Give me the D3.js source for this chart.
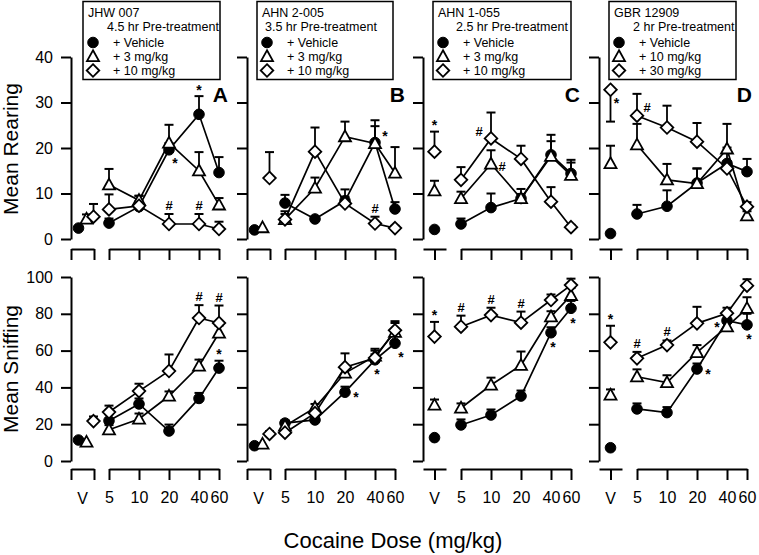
<!DOCTYPE html>
<html><head><meta charset="utf-8">
<script src="https://cdn.jsdelivr.net/npm/d3@7"></script>
<style>body{margin:0;background:#fff}svg{display:block}</style>
</head><body><svg id="c" width="759" height="555"></svg>
<script>
// ---------- DATA ----------
const panelLetters = ["A","B","C","D"];
const compounds = ["JHW 007","AHN 2-005","AHN 1-055","GBR 12909"];
const pretreatments = ["4.5 hr Pre-treatment","3.5 hr Pre-treatment","2.5 hr Pre-treatment","2 hr Pre-treatment"];
const legendEntries = [
  ["+ Vehicle","+ 3 mg/kg","+ 10 mg/kg"],
  ["+ Vehicle","+ 3 mg/kg","+ 10 mg/kg"],
  ["+ Vehicle","+ 3 mg/kg","+ 10 mg/kg"],
  ["+ Vehicle","+ 10 mg/kg","+ 30 mg/kg"]
];
const doses = [5,10,20,40,60];
const xTickLabels = ["V","5","10","20","40","60"];
const rearTicks = [0,10,20,30,40];
const sniffTicks = [0,20,40,60,80,100];
const yTitleRear = "Mean Rearing";
const yTitleSniff = "Mean Sniffing";
const xTitle = "Cocaine Dose (mg/kg)";

// rows: [V, 5, 10, 20, 40, 60]; series order: vehicle(circle), low dose(triangle), high dose(diamond)
const rearA_mean = [[2.4,3.5,7.1,19.6,27.4,14.6],[4.4,11.9,8.5,21.1,15.0,7.5],[4.9,6.5,7.3,3.3,3.3,2.2]];
const rearA_sem  = [[0,1.0,2.4,1.5,4.0,3.4],[1.0,3.5,1.0,4.0,4.1,1.5],[2.8,3.3,1.0,2.2,2.2,1.6]];
const rearB_mean = [[2.0,7.9,4.4,8.4,21.2,6.6],[2.5,4.3,11.2,22.5,21.0,14.5],[13.4,4.3,19.2,7.8,3.4,2.4]];
const rearB_sem  = [[0,1.8,0.5,2.5,4.9,1.5],[0,1.8,2.3,3.3,3.8,5.7],[5.7,1.2,5.3,1.5,1.5,0.5]];
const rearC_mean = [[2.1,3.3,6.9,8.9,18.5,14.4],[10.6,8.9,16.5,8.9,18.2,14.0],[19.2,13.0,22.1,17.6,8.2,2.6]];
const rearC_sem  = [[0,1.2,3.1,2.1,4.4,3.0],[2.2,1.5,3.0,1.0,3.3,2.8],[4.4,2.8,5.7,2.9,3.2,0.5]];
const rearD_mean = [[1.2,5.5,7.2,12.3,16.6,14.8],[16.6,20.7,13.0,12.2,19.8,5.1],[32.8,27.1,24.5,21.4,15.5,7.1]];
const rearD_sem  = [[0,2.0,3.5,3.2,3.5,2.8],[3.9,4.6,3.5,3.3,5.5,1.0],[-7.0,4.8,4.8,4.1,1.5,1.0]];

const sniffA_mean = [[11.4,21.9,31.0,16.3,34.0,50.5],[10.3,17.0,22.8,35.3,51.6,69.6],[21.7,26.6,38.0,48.9,77.7,75.0]];
const sniffA_sem  = [[0,3.5,3.0,3.5,3.0,4.0],[0,2.5,3.0,2.5,3.5,4.0],[2.5,3.5,4.0,9.0,7.0,9.5]];
const sniffB_mean = [[8.3,20.6,22.3,37.4,55.0,64.0],[9.2,19.0,29.0,47.8,57.0,70.0],[14.7,15.4,26.0,51.0,56.0,71.0]];
const sniffB_sem  = [[0,1.5,1.5,3.0,3.0,4.0],[0,1.0,2.0,3.0,3.0,5.0],[1.5,1.0,2.0,7.5,5.0,5.0]];
const sniffC_mean = [[12.7,19.6,25.0,35.3,69.7,83.0],[30.4,28.8,41.3,52.0,78.4,90.0],[67.6,73.0,79.3,75.2,87.5,95.6]];
const sniffC_sem  = [[0,3.0,3.0,3.0,3.0,4.0],[3.0,2.5,4.0,7.5,3.0,4.0],[8.0,6.0,4.0,6.0,3.0,3.5]];
const sniffD_mean = [[7.2,28.3,26.3,50.0,76.3,74.0],[35.9,45.8,42.6,59.0,73.0,83.0],[64.5,55.8,63.0,74.8,80.3,95.3]];
const sniffD_sem  = [[0,3.0,3.0,3.0,3.0,6.0],[3.0,4.0,4.0,4.0,4.0,6.0],[9.0,3.5,2.5,9.0,3.0,3.5]];

// significance marks: [series, point index (0 = V), symbol, placement]
const rearA_notes = [[0,3,"*","downright"],[0,4,"*","above"],[2,3,"#","above"],[2,4,"#","above"]];
const rearB_notes = [[0,4,"*","upright"],[2,4,"#","above"]];
const rearC_notes = [[2,0,"*","above"],[2,2,"#","upleft"],[1,2,"#","right"]];
const rearD_notes = [[2,0,"*","downright"],[2,1,"#","upright"]];
const sniffA_notes = [[0,5,"*","above"],[2,4,"#","above"],[2,5,"#","above"]];
const sniffB_notes = [[0,3,"*","right"],[0,4,"*","below"],[0,5,"*","downright"]];
const sniffC_notes = [[2,0,"*","above"],[2,1,"#","above"],[2,2,"#","above"],[2,3,"#","above"],[0,4,"*","below"],[0,5,"*","below"]];
const sniffD_notes = [[2,0,"*","above"],[2,1,"#","above"],[2,2,"#","above"],[0,3,"*","right"],[0,4,"*","left"],[0,5,"*","below"]];

// ---------- LAYOUT ----------
const FONT = "'Liberation Sans', Arial, Helvetica, sans-serif";
const svg = d3.select("#c");
const axisXs = [71,247,423,599];
const vehicleStyle = ["split","split","single","single"];
const vehOffsets = {split:[7.5,15.5,22.5], single:[11.5,11.5,11.5]};
const legendX = [83,257,433,609], legendW = [137,136,138,127], pretreatDX = [24,8,23,24];
const letterDX = [157,158,157,153];

const yRear = d3.scaleLinear().domain([0,40]).range([239,57]);
const ySniff = d3.scaleLinear().domain([0,100]).range([461,277]);
const xDose = d3.scaleLog().domain([5,40,60]).range([38,128,148]);
const xVeh = d3.scaleLinear().domain([0,1]).range([0,23]);

const rows = [
  {y: yRear, ticks: rearTicks, means:[rearA_mean,rearB_mean,rearC_mean,rearD_mean], sems:[rearA_sem,rearB_sem,rearC_sem,rearD_sem],
   notes:[rearA_notes,rearB_notes,rearC_notes,rearD_notes], bracketY: 249, labels:false, title: yTitleRear, titleY: 149},
  {y: ySniff, ticks: sniffTicks, means:[sniffA_mean,sniffB_mean,sniffC_mean,sniffD_mean], sems:[sniffA_sem,sniffB_sem,sniffC_sem,sniffD_sem],
   notes:[sniffA_notes,sniffB_notes,sniffC_notes,sniffD_notes], bracketY: 469, labels:true, title: yTitleSniff, titleY: 369}
];

function drawMarker(g, type, x, y) {
  if (type === 0) {
    g.append("circle").attr("cx",x).attr("cy",y).attr("r",5.3).attr("fill","#000").attr("stroke","#000").attr("stroke-width",1);
  } else if (type === 1) {
    g.append("path").attr("d",`M${x},${y-6.2}L${x+6},${y+4.6}L${x-6},${y+4.6}Z`)
      .attr("fill","#fff").attr("stroke","#000").attr("stroke-width",1.8).attr("stroke-linejoin","miter");
  } else {
    g.append("path").attr("d",`M${x},${y-6.3}L${x+6.3},${y}L${x},${y+6.3}L${x-6.3},${y}Z`)
      .attr("fill","#fff").attr("stroke","#000").attr("stroke-width",1.8);
  }
}

const placeOffsets = {
  right:[11,2], upright:[10,-9], upleft:[-12,-7], left:[-10,4], below:[2,12], downright:[6,11]
};

rows.forEach((r) => {
  axisXs.forEach((ax, p) => {
    const g = svg.append("g").attr("transform",`translate(${ax},0)`);
    // y axis
    const ya = g.append("g").call(d3.axisLeft(r.y).tickValues(r.ticks).tickSize(10).tickSizeOuter(0).tickPadding(8)
      .tickFormat(p === 0 ? d3.format("d") : () => ""));
    ya.select(".domain").attr("stroke-width",2);
    ya.selectAll(".tick line").attr("stroke-width",2);
    ya.selectAll("text").attr("font-family",FONT).attr("font-size",16).attr("fill","#000");

    // dose bracket
    const xa = g.append("g").attr("transform",`translate(0,${r.bracketY})`)
      .call(d3.axisBottom(xDose).tickValues(doses).tickSize(11).tickSizeOuter(0).tickPadding(12)
        .tickFormat((d,i) => r.labels ? xTickLabels[i+1] : ""));
    xa.select(".domain").attr("stroke-width",2);
    xa.selectAll(".tick line").attr("stroke-width",2);
    xa.selectAll("text").attr("font-family",FONT).attr("font-size",16).attr("fill","#000");

    // vehicle bracket
    const split = vehicleStyle[p] === "split";
    const va = g.append("g").attr("transform",`translate(0,${r.bracketY})`)
      .call(d3.axisBottom(xVeh).tickValues(split ? [0,1] : [0.5]).tickSize(11).tickSizeOuter(0).tickFormat(() => ""));
    va.select(".domain").attr("stroke-width",2);
    va.selectAll(".tick line").attr("stroke-width",2);
    if (r.labels) {
      g.append("text").attr("x", xVeh(0.5)).attr("y", r.bracketY + 35).attr("text-anchor","middle")
        .attr("font-family",FONT).attr("font-size",16).text(xTickLabels[0]);
    }

    const means = r.means[p], sems = r.sems[p];
    const vOff = vehOffsets[vehicleStyle[p]];
    const px = (s,i) => i === 0 ? vOff[s] : xDose(doses[i-1]);

    // lines
    const line = d3.line().x(d => d[0]).y(d => d[1]);
    means.forEach((row, s) => {
      const pts = doses.map((d,i) => [xDose(d), r.y(row[i+1])]);
      g.append("path").attr("d", line(pts)).attr("fill","none").attr("stroke","#000").attr("stroke-width",1.7);
    });
    // error bars
    means.forEach((row, s) => {
      row.forEach((v, i) => {
        const e = sems[s][i];
        if (!e) return;
        const x = px(s,i), y0 = r.y(v), y1 = r.y(v + e);
        g.append("line").attr("x1",x).attr("x2",x).attr("y1",y0).attr("y2",y1).attr("stroke","#000").attr("stroke-width",1.8);
        g.append("line").attr("x1",x-4.5).attr("x2",x+4.5).attr("y1",y1).attr("y2",y1).attr("stroke","#000").attr("stroke-width",2);
      });
    });
    // markers
    means.forEach((row, s) => {
      row.forEach((v, i) => drawMarker(g, s, px(s,i), r.y(v)));
    });
    // significance marks
    r.notes[p].forEach(([s,i,sym,place]) => {
      const x = px(s,i), v = means[s][i], e = sems[s][i];
      let cx, cy;
      if (place === "above") { cx = x; cy = r.y(v + Math.max(e,0)) - (e > 0 ? 9 : 12); }
      else { const o = placeOffsets[place]; cx = x + o[0]; cy = r.y(v) + o[1]; }
      const base = sym === "*" ? cy + 7.5 : cy + 5;
      g.append("text").attr("x",cx).attr("y",base).attr("text-anchor","middle")
        .attr("font-family",FONT).attr("font-size",sym === "*" ? 14 : 13).attr("font-weight","bold").text(sym);
    });
  });

  // y title
  svg.append("text").attr("transform",`translate(18,${r.titleY}) rotate(-90)`).attr("text-anchor","middle")
    .attr("font-family",FONT).attr("font-size",21).text(r.title);
});

// legends and panel letters
axisXs.forEach((ax, p) => {
  const lx = legendX[p];
  const lg = svg.append("g");
  lg.append("rect").attr("x",lx).attr("y",1.5).attr("width",legendW[p]).attr("height",78)
    .attr("fill","#fff").attr("stroke","#000").attr("stroke-width",1.5);
  lg.append("text").attr("x",lx+5).attr("y",17).attr("font-family",FONT).attr("font-size",12.5).text(compounds[p]);
  lg.append("text").attr("x",lx+pretreatDX[p]).attr("y",31).attr("font-family",FONT).attr("font-size",12.5).text(pretreatments[p]);
  legendEntries[p].forEach((t, s) => {
    const yy = 47 + s*14;
    drawMarker(lg, s, lx+10, yy-4.5);
    lg.append("text").attr("x",lx+30).attr("y",yy).attr("font-family",FONT).attr("font-size",12.5).text(t);
  });
  svg.append("text").attr("x",ax+letterDX[p]).attr("y",102).attr("text-anchor","end")
    .attr("font-family",FONT).attr("font-size",21).attr("font-weight","bold").text(panelLetters[p]);
});

svg.append("text").attr("x",393).attr("y",548).attr("text-anchor","middle")
  .attr("font-family",FONT).attr("font-size",22).text(xTitle);
</script>
</body></html>
